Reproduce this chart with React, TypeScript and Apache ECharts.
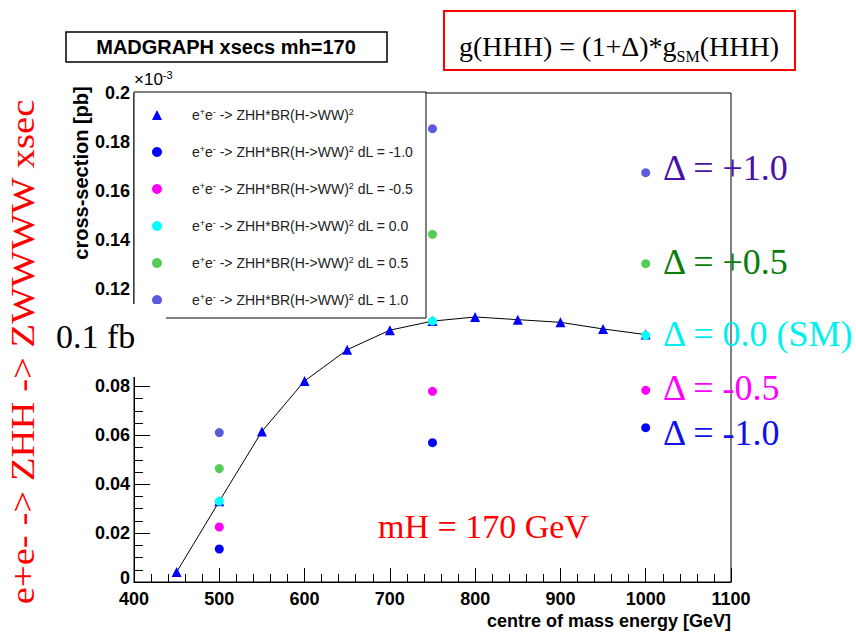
import React, { useEffect, useRef } from "react";
import * as echarts from "echarts";

// ---- data ----
const smEnergies = [450, 500, 550, 600, 650, 700, 750, 800, 850, 900, 950, 1000];
const smXsec = [0.0041, 0.033, 0.0616, 0.0822, 0.095, 0.103, 0.1067, 0.1084, 0.1073, 0.1062, 0.1035, 0.1012];
const dLEnergies = [500, 750, 1000];
const xsecDLm10 = [0.0135, 0.057, 0.0631];
const xsecDLm05 = [0.0225, 0.078, 0.0784];
const xsecDL00 = [0.033, 0.1067, 0.1009];
const xsecDLp05 = [0.0464, 0.1422, 0.1302];
const xsecDLp10 = [0.0611, 0.1854, 0.1674];

const seriesNames = ["SM", "dL=-1.0", "dL=-0.5", "dL=0.0", "dL=0.5", "dL=1.0"];
const legendSuffix = ["", " dL = -1.0", " dL = -0.5", " dL = 0.0", " dL = 0.5", " dL = 1.0"];
const seriesColors = ["#0000ff", "#0000ff", "#ff00ff", "#00ffff", "#55cc55", "#5b5bdc"];

const annotationTexts = ["Δ = +1.0", "Δ = +0.5", "Δ = 0.0 (SM)", "Δ = -0.5", "Δ = -1.0"];
const annotationColors = ["#4a10a8", "#0a7d0a", "#00f0f0", "#ff00ff", "#1010e8"];
const annotationY = [168, 262, 334, 388, 433];

const SANS = '"Liberation Sans", Arial, Helvetica, sans-serif';
const SERIF = '"Liberation Serif", "Times New Roman", serif';

const zip = (xs: number[], ys: number[]) => xs.map((x, i) => [x, ys[i]]);

export default function App() {
  const ref = useRef<HTMLDivElement>(null);
  useEffect(() => {
    if (!ref.current) return;
    const chart = echarts.init(ref.current, undefined, { renderer: "svg" });
    const dLData = [xsecDLm10, xsecDLm05, xsecDL00, xsecDLp05, xsecDLp10];

    const legendBase = "e{sup|+}e{sup|-} -> ZHH*BR(H->WW){sup|2}";

    const option: any = {
      animation: false,
      backgroundColor: "#fff",
      grid: {
        left: 134,
        right: 125,
        top: 93,
        bottom: 52,
        show: true,
        borderColor: "#000",
        borderWidth: 1,
        backgroundColor: "transparent",
      },
      xAxis: {
        type: "value",
        min: 400,
        max: 1100,
        interval: 100,
        axisLine: { lineStyle: { color: "#000", width: 1 } },
        axisTick: { inside: true, length: 14, lineStyle: { color: "#000" } },
        minorTick: { show: true, splitNumber: 5, length: 8, lineStyle: { color: "#000" } },
        splitLine: { show: false },
        axisLabel: {
          color: "#000",
          fontFamily: SANS,
          fontWeight: "bold",
          fontSize: 18,
          margin: 8,
          formatter: (v: number) => String(v),
        },
      },
      yAxis: {
        type: "value",
        min: 0,
        max: 0.2,
        interval: 0.02,
        axisLine: { lineStyle: { color: "#000", width: 1 } },
        axisTick: { inside: true, length: 16, lineStyle: { color: "#000" } },
        minorTick: { show: true, splitNumber: 4, length: 9, lineStyle: { color: "#000" } },
        splitLine: { show: false },
        axisLabel: {
          color: "#000",
          fontFamily: SANS,
          fontWeight: "bold",
          fontSize: 18,
          margin: 4,
          formatter: (v: number) =>
            v === 0 ? "{zero|0}" : Math.abs(v - 0.1) < 1e-9 ? "" : v.toFixed(2).replace(/0$/, ""),
          rich: {
            zero: { fontFamily: SANS, fontWeight: "bold", fontSize: 18, color: "#000", padding: [0, 0, 8, 0] },
          },
        },
      },
      legend: {
        orient: "vertical",
        left: 134,
        top: 92,
        padding: [15, 6, 10, 18],
        itemGap: 21,
        itemWidth: 10,
        itemHeight: 10,
        backgroundColor: "#fff",
        borderColor: "#000",
        borderWidth: 1,
        borderRadius: 0,
        selectedMode: false,
        data: seriesNames.map((n, i) => ({ name: n, icon: i === 0 ? "triangle" : "circle" })),
        formatter: (name: string) => legendBase + legendSuffix[seriesNames.indexOf(name)],
        textStyle: {
          fontFamily: SANS,
          fontSize: 14,
          color: "#222",
          lineHeight: 16,
          padding: [0, 0, 0, 25],
          width: 228,
          rich: {
            sup: { fontSize: 9, fontFamily: SANS, color: "#222", verticalAlign: "top", lineHeight: 10 },
          },
        },
      },
      series: [
        {
          name: seriesNames[0],
          type: "line",
          data: zip(smEnergies, smXsec),
          symbol: "triangle",
          symbolSize: 10,
          showAllSymbol: true,
          lineStyle: { color: "#000", width: 1 },
          itemStyle: { color: seriesColors[0] },
          z: 2,
        },
        ...dLData.map((d, i) => ({
          name: seriesNames[i + 1],
          type: "scatter",
          data: zip(dLEnergies, d),
          symbol: "circle",
          symbolSize: 9,
          itemStyle: { color: seriesColors[i + 1], opacity: 1 },
          z: 3,
        })),
      ],
      graphic: [
        // title box
        {
          type: "rect",
          shape: { x: 66, y: 32, width: 321, height: 30 },
          style: { fill: "#fff", stroke: "#000", lineWidth: 1.5 },
          z: 100,
        },
        {
          type: "text",
          x: 226,
          y: 47,
          style: {
            text: "MADGRAPH xsecs mh=170",
            fontFamily: SANS,
            fontWeight: "bold",
            fontSize: 20,
            fill: "#000",
            align: "center",
            verticalAlign: "middle",
          },
          z: 101,
        },
        // red formula box
        {
          type: "rect",
          shape: { x: 444, y: 11, width: 351, height: 59 },
          style: { fill: "#fff", stroke: "#ff0000", lineWidth: 2 },
          z: 100,
        },
        {
          type: "text",
          x: 619,
          y: 46,
          style: {
            text: "g(HHH) = (1+Δ)*g{sub|SM}(HHH)",
            fontFamily: SERIF,
            fontSize: 28,
            lineHeight: 36,
            fill: "#000",
            align: "center",
            verticalAlign: "middle",
            rich: {
              sub: { fontFamily: SERIF, fontSize: 16, lineHeight: 16, fill: "#000", verticalAlign: "bottom" },
            },
          },
          z: 101,
        },
        // x10^-3
        {
          type: "text",
          x: 134,
          y: 79,
          style: {
            text: "×10{sup|-3}",
            fontFamily: SANS,
            fontSize: 17,
            fill: "#000",
            align: "left",
            verticalAlign: "middle",
            rich: { sup: { fontFamily: SANS, fontSize: 11, fill: "#000", verticalAlign: "top", padding: [0, 0, 8, 0] } },
          },
          z: 101,
        },
        // y axis title
        {
          type: "text",
          x: 81,
          y: 173,
          rotation: Math.PI / 2,
          style: {
            text: "cross-section [pb]",
            fontFamily: SANS,
            fontWeight: "bold",
            fontSize: 20,
            fill: "#000",
            align: "center",
            verticalAlign: "middle",
          },
          z: 101,
        },
        // red rotated label
        {
          type: "text",
          x: 23,
          y: 352,
          rotation: Math.PI / 2,
          scaleX: 1.14,
          style: {
            text: "e+e- -> ZHH -> ZWWWW xsec",
            fontFamily: SERIF,
            fontSize: 34,
            fill: "#ff0000",
            align: "center",
            verticalAlign: "middle",
          },
          z: 101,
        },
        // white cover with 0.1 fb
        {
          type: "rect",
          shape: { x: 46, y: 304, width: 120, height: 73 },
          style: { fill: "#fff", stroke: "none" },
          z: 100,
        },
        {
          type: "text",
          x: 56,
          y: 336,
          style: {
            text: "0.1 fb",
            fontFamily: SERIF,
            fontSize: 34,
            fill: "#000",
            align: "left",
            verticalAlign: "middle",
          },
          z: 101,
        },
        // x axis title
        {
          type: "text",
          x: 731,
          y: 621,
          style: {
            text: "centre of mass energy [GeV]",
            fontFamily: SANS,
            fontWeight: "bold",
            fontSize: 18,
            fill: "#000",
            align: "right",
            verticalAlign: "middle",
          },
          z: 101,
        },
        // mH label
        {
          type: "text",
          x: 378,
          y: 526,
          style: {
            text: "mH = 170 GeV",
            fontFamily: SERIF,
            fontSize: 34,
            fill: "#ff0000",
            align: "left",
            verticalAlign: "middle",
          },
          z: 101,
        },
        // Delta annotations
        ...annotationTexts.map((t, i) => ({
          type: "text",
          x: 663,
          y: annotationY[i],
          style: {
            text: t,
            fontFamily: SERIF,
            fontSize: 36,
            fill: annotationColors[i],
            align: "left",
            verticalAlign: "middle",
          },
          z: 101,
        })),
      ],
    };
    chart.setOption(option);
    return () => chart.dispose();
  }, []);
  return (
    <div
      ref={ref}
      style={{ position: "fixed", left: 0, top: 0, width: 856, height: 634, background: "#fff" }}
    />
  );
}
